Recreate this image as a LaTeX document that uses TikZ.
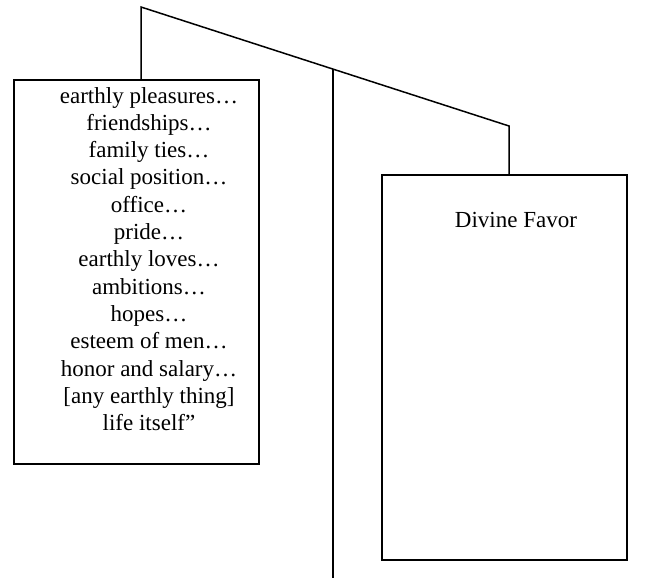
\documentclass[tikz,border=0pt]{standalone}
\usepackage{fontspec}
\setmainfont{Liberation Serif}
\usetikzlibrary{positioning}

\begin{document}
\begin{tikzpicture}[
    x=1pt, y=-1pt,
    panbox/.style={draw, line width=1.8pt, rectangle, inner sep=0pt},
    panlabel/.style={align=center, inner sep=0pt,
        font=\fontsize{23}{27.3}\selectfont},
    beamline/.style={line width=1.5pt}
]
\useasboundingbox (0,0) rectangle (654,582);

% the two pans
\node[panbox, minimum width=245pt, minimum height=384pt, anchor=north west]
    (leftpan) at (13,79) {};
\node[panbox, minimum width=245pt, minimum height=385pt, anchor=north west]
    (rightpan) at (381,174) {};

\node[panlabel] (leftlist) at (149,259)
    {earthly pleasures…\\friendships…\\family ties…\\social position…\\
     office…\\pride…\\earthly loves…\\ambitions…\\hopes…\\esteem of men…\\
     honor and salary…\\{}[any earthly thing]\\life itself”};
\node[panlabel] (favor) at (516,220) {Divine Favor};

% beam and post
\coordinate (beamleft) at (141,7);
\coordinate (beamright) at (509,126);
\coordinate (pivot) at (333,69);
\coordinate (postfoot) at (333,578);

\draw[beamline] (leftpan.north -| beamleft) -- (beamleft) -- (beamright)
    -- (rightpan.north -| beamright);
\draw[beamline, line width=1.7pt] (pivot) -- (postfoot);
\end{tikzpicture}
\end{document}
